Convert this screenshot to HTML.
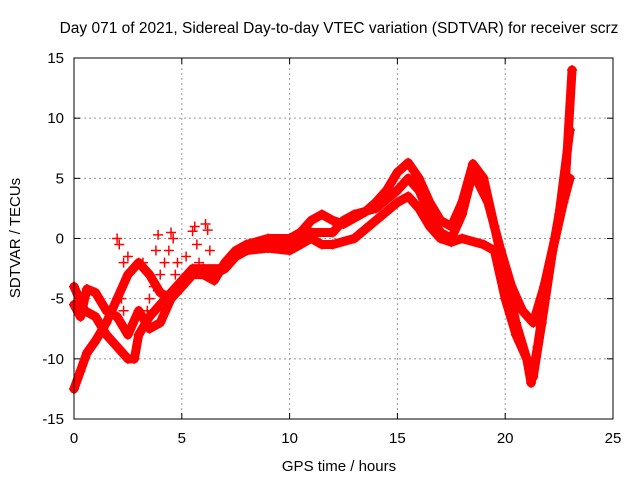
<!DOCTYPE html>
<html><head><meta charset="utf-8"><style>
body{margin:0;background:#fff;}
svg{display:block;font-family:"Liberation Sans",sans-serif;}
</style></head><body>
<svg id="c" width="640" height="480">
<rect width="640" height="480" fill="#fff"/>
<text x="339" y="33" font-size="15.5" text-anchor="middle">Day 071 of 2021, Sidereal Day-to-day VTEC variation (SDTVAR) for receiver scrz</text>
<text x="339" y="471" font-size="15" text-anchor="middle">GPS time / hours</text>
<text transform="translate(20,238) rotate(-90)" font-size="15" text-anchor="middle">SDTVAR / TECUs</text>
<g id="grid"></g><g id="ticks"></g><g id="marks"></g>
<rect x="74" y="58" width="539" height="361" fill="none" stroke="#000" stroke-width="1"/>
</svg>
<script>
const xTicks=[0,5,10,15,20,25];
const yTicks=[-15,-10,-5,0,5,10,15];
const trackA=[[0,-12.5],[0.3,-11],[0.6,-9.5],[1,-8.5],[1.5,-7],[2,-5],[2.5,-3],[3,-2],[3.5,-3],[4,-4.5],[4.5,-5],[5,-4],[5.5,-3],[6,-3],[6.5,-3.5],[7,-2],[7.5,-1],[8,-0.5],[9,0],[10,0],[10.5,0.5],[11,1.5],[11.5,2],[12,1.5],[12.5,1.2],[13,1.7],[13.5,2.2],[14,3],[14.5,4],[15,5.5],[15.5,6.3],[16,5],[16.5,3],[17,1.5],[17.5,1],[18,3],[18.5,6.2],[19,5],[19.5,1],[20,-3],[20.5,-7],[21,-10],[21.2,-12],[21.5,-9],[22,-3],[22.5,2],[23,9]];
const trackB=[[0,-4],[0.5,-6],[1,-6.5],[1.5,-8],[2,-9],[2.5,-10],[2.8,-10],[3,-8],[3.5,-6.5],[4,-5.5],[4.5,-4.5],[5,-3.5],[5.5,-2.5],[6,-2.5],[6.5,-3],[7,-2.5],[7.5,-1.5],[8,-1],[9,-0.5],[10,-0.5],[10.5,0],[11,0.5],[12,0.5],[12.5,1.5],[13,2],[14,2.5],[15,4],[15.5,5],[16,4],[16.5,2],[17,0.5],[17.5,0],[18,2],[18.5,5.5],[19.2,3],[19.8,-1],[20.3,-4],[20.8,-6],[21.3,-7],[21.8,-4],[22.3,0],[22.8,5],[23.1,14]];
const trackC=[[0,-5.5],[0.3,-6.5],[0.6,-4.2],[1,-4.5],[1.5,-6],[2,-6.5],[2.5,-8],[3,-6],[3.5,-7.5],[4,-7],[4.5,-5],[5,-4],[5.5,-3],[6,-2.5],[7,-2.5],[7.5,-1.5],[8,-1],[9,-0.8],[10,-1],[10.5,-0.5],[11,0],[11.5,-0.5],[12,-0.5],[13,0],[14,1.5],[15,3],[15.5,3.5],[16,2.5],[16.5,1],[17,0],[17.5,-0.3],[18,0],[19,-0.5],[19.5,-1],[20,-5],[20.5,-8],[21,-10],[21.3,-11.5],[21.7,-7],[22.2,-1],[22.7,3],[23,5]];
const spikes=[[2,0],[2.1,-0.5],[2.3,-2],[2.2,-5],[2.3,-6],[4.5,0.5],[4.6,0],[4.4,-1],[3.8,-1],[3.9,0.3],[5.6,1],[5.5,0.6],[5.7,-0.5],[6.1,1.2],[6.2,0.7],[6.3,-1],[3.7,-4],[4,-3],[3.2,-2],[3.4,-6],[4.8,-2],[5.2,-1.5],[2.5,-1.5],[4.2,-2],[4.7,-3],[3.5,-5],[5.8,-2]];
const X=v=>74+v*(539/25), Y=v=>419-(v+15)*(361/30);
const ns="http://www.w3.org/2000/svg";
const g=document.getElementById('grid'),t=document.getElementById('ticks'),m=document.getElementById('marks');
function el(n,a,p){const e=document.createElementNS(ns,n);for(const k in a)e.setAttribute(k,a[k]);p.appendChild(e);return e;}
xTicks.forEach(v=>{
 if(v>0&&v<25){const l=el('line',{x1:X(v),x2:X(v),y1:58,y2:419,stroke:'#999','stroke-dasharray':'2,3'},g);
 
 }
 el('line',{x1:X(v),x2:X(v),y1:419,y2:413,stroke:'#000'},t);
 el('line',{x1:X(v),x2:X(v),y1:58,y2:64,stroke:'#000'},t);
 const s=el('text',{x:X(v),y:443,'font-size':15,'text-anchor':'middle'},t);s.textContent=v;
 
 
});
yTicks.forEach(v=>{
 if(v>-15&&v<15){const l=el('line',{x1:74,x2:613,y1:Y(v),y2:Y(v),stroke:'#999','stroke-dasharray':'2,3'},g);
 
 }
 el('line',{x1:74,x2:80,y1:Y(v),y2:Y(v),stroke:'#000'},t);
 el('line',{x1:613,x2:607,y1:Y(v),y2:Y(v),stroke:'#000'},t);
 const s=el('text',{x:64,y:Y(v)+5,'font-size':15,'text-anchor':'end'},t);s.textContent=v;
 
 
});
[trackA,trackB,trackC].forEach((tr,i)=>{
 const p=el('polyline',{points:tr.map(d=>X(d[0])+','+Y(d[1])).join(' '),fill:'none',stroke:'#f00','stroke-width':9,'stroke-linejoin':'round','stroke-linecap':'round'},m);
 
 
});
let d='';
[trackA,trackB,trackC,spikes].forEach(tr=>tr.forEach(q=>{const x=X(q[0]),y=Y(q[1]);d+=`M${x-5} ${y}h10M${x} ${y-5}v10`;}));
const pm=el('path',{d:d,stroke:'#f00','stroke-width':1.5,fill:'none'},m);


</script>
</body></html>
